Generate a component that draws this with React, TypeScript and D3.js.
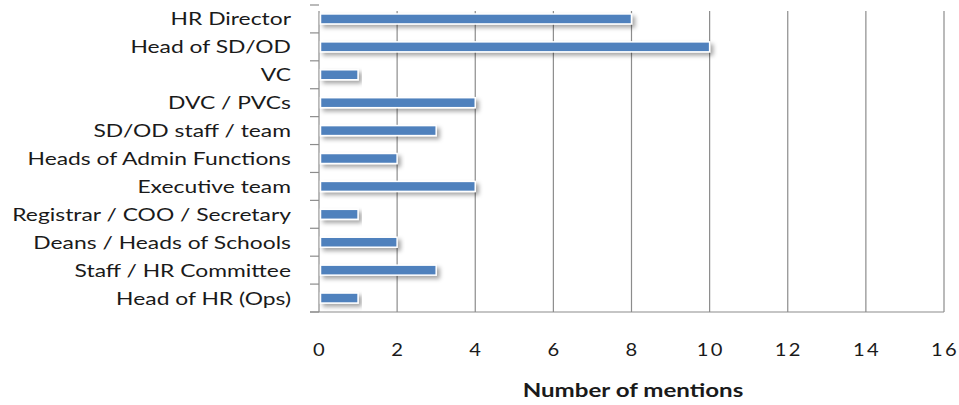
import * as d3 from "d3";

const CATEGORIES = [
  "HR Director",
  "Head of SD/OD",
  "VC",
  "DVC / PVCs",
  "SD/OD staff / team",
  "Heads of Admin Functions",
  "Executive team",
  "Registrar / COO / Secretary",
  "Deans / Heads of Schools",
  "Staff / HR Committee",
  "Head of HR (Ops)",
];
const MENTIONS = [8, 10, 1, 4, 3, 2, 4, 1, 2, 3, 1];
const X_TICKS = [0, 2, 4, 6, 8, 10, 12, 14, 16];

const WIDTH = 959;
const HEIGHT = 405;
const PLOT = { left: 319, right: 944, top: 5, bottom: 312 };
const FONT = "Lato, 'Open Sans', sans-serif";
const BAR_FILL = "#4f81bd";
const AXIS = "#8c8c8c";

export default function App() {
  const x = d3.scaleLinear().domain([0, 16]).range([PLOT.left, PLOT.right]);
  const y = d3.scaleBand().domain(CATEGORIES).range([PLOT.top, PLOT.bottom]);
  const barH = 10;
  const boundaries = d3.range(CATEGORIES.length + 1).map((i) => PLOT.top + i * y.step());

  return (
    <svg
      width={WIDTH}
      height={HEIGHT}
      style={{ position: "absolute", left: 0, top: 0, background: "#fff" }}
    >
      <defs>
        <filter id="shadow" x="-5%" y="-50%" width="115%" height="250%">
          <feDropShadow dx="3" dy="3" stdDeviation="2" floodColor="#000" floodOpacity="0.35" />
        </filter>
      </defs>

      {/* vertical grid */}
      {X_TICKS.slice(1).map((t) => (
        <line key={t} x1={x(t)} x2={x(t)} y1={PLOT.top + 6} y2={PLOT.bottom} stroke={AXIS} strokeWidth={1.2} />
      ))}

      {/* left axis and category ticks */}
      <line x1={PLOT.left} x2={PLOT.left} y1={PLOT.top + 6} y2={PLOT.bottom} stroke={AXIS} strokeWidth={1.2} />
      {boundaries.map((b, i) => (
        <line key={i} x1={PLOT.left - 9} x2={PLOT.left} y1={b} y2={b} stroke={AXIS} strokeWidth={1.2} />
      ))}
      <line x1={PLOT.left - 9} x2={PLOT.right} y1={PLOT.bottom} y2={PLOT.bottom} stroke={AXIS} strokeWidth={1.2} />

      {/* bars */}
      {CATEGORIES.map((c, i) => {
        const cy = (y(c) ?? 0) + y.bandwidth() / 2;
        return (
          <rect
            key={c}
            x={x(0) + 1.5}
            y={cy - barH / 2}
            width={x(MENTIONS[i]) - x(0) - 1.5}
            height={barH}
            fill={BAR_FILL}
            stroke="#fff"
            strokeWidth={1.5}
            filter="url(#shadow)"
          />
        );
      })}

      {/* category labels, stretched to match the wide original face */}
      {CATEGORIES.map((c) => (
        <text
          key={c}
          transform={`translate(${PLOT.left - 28},${(y(c) ?? 0) + y.bandwidth() / 2}) scale(1.27,1)`}
          dy="0.36em"
          textAnchor="end"
          fontFamily={FONT}
          fontSize={18}
          fill="#1a1a1a"
        >
          {c}
        </text>
      ))}

      {/* x tick labels */}
      {X_TICKS.map((t) => (
        <text
          key={t}
          transform={`translate(${x(t) + 1},356) scale(1.12,1)`}
          textAnchor="middle"
          fontFamily={FONT}
          fontSize={18}
          letterSpacing={2}
          fill="#1a1a1a"
        >
          {t}
        </text>
      ))}

      <text
        transform={`translate(633,397) scale(1.34,1)`}
        textAnchor="middle"
        fontFamily={FONT}
        fontSize={18}
        fontWeight="bold"
        fill="#1a1a1a"
      >
        Number of mentions
      </text>
    </svg>
  );
}
